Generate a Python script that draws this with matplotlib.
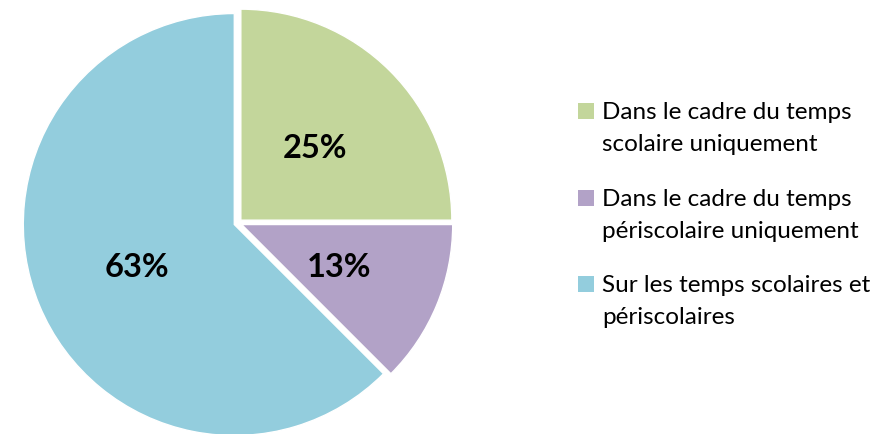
import math
import matplotlib
matplotlib.use("Agg")
import matplotlib.pyplot as plt
from matplotlib.patches import Rectangle

plt.rcParams['font.family'] = ['Lato', 'DejaVu Sans']

categories = ["Dans le cadre du temps\nscolaire uniquement",
              "Dans le cadre du temps\npériscolaire uniquement",
              "Sur les temps scolaires et\npériscolaires"]
shares = [25, 12.5, 62.5]
colors = ["#C3D69B", "#B2A2C7", "#93CDDD"]

W, H = 888, 434
cx, cy, r = 238, 211, 211  # pie centre (px from bottom-left) and radius

fig = plt.figure(figsize=(W / 100, H / 100), dpi=100)
ax = fig.add_axes([0, 0, 1, 1])
wedges, texts, autotexts = ax.pie(
    shares, colors=colors, startangle=90, counterclock=False,
    explode=[0.019] * len(shares), radius=1,
    autopct=lambda p: "{}%".format(math.floor(p + 0.5)),
    pctdistance=0.5,
    wedgeprops=dict(edgecolor="white", linewidth=1),
    textprops=dict(fontsize=23.5, fontweight="bold", color="black"))
for t in autotexts:
    x, y = t.get_position()
    t.set_position((x, y - 3 / r))
ax.set_xlim(-cx / r, (W - cx) / r)
ax.set_ylim(-cy / r, (H - cy) / r)
ax.axis("off")

# legend: square aligned with the first line of each entry
x_sq, x_txt = 578, 602
base0, pitch, line_h, sq = 119, 86.5, 32, 16
for i, (lab, c) in enumerate(zip(categories, colors)):
    b = base0 + i * pitch
    fig.add_artist(Rectangle((x_sq / W, 1 - b / H), sq / W, sq / H,
                             transform=fig.transFigure, facecolor=c,
                             edgecolor="none"))
    for j, line in enumerate(lab.split("\n")):
        fig.text(x_txt / W, 1 - (b + j * line_h) / H, line,
                 fontsize=17.5, va="baseline", ha="left", color="black")

fig.savefig("out.png", dpi=100)
